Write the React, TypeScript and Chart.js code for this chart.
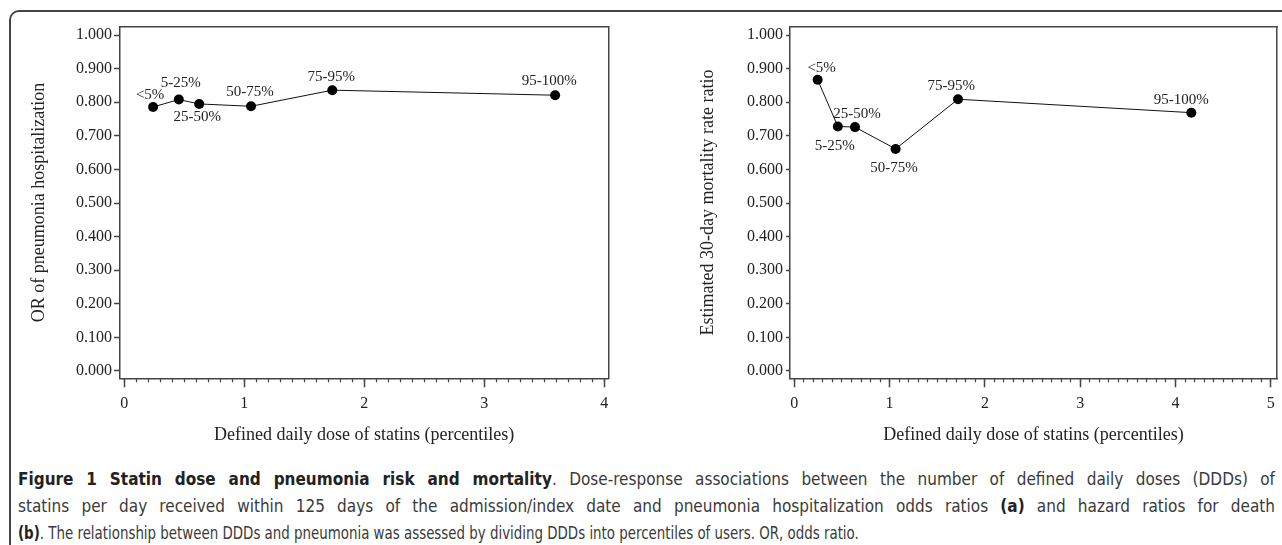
import React, { useEffect, useRef } from 'react';
import { Chart, registerables } from 'chart.js';

Chart.register(...registerables);

// ---------- data ----------
const percentileLabels = ['<5%', '5-25%', '25-50%', '50-75%', '75-95%', '95-100%'];

// Panel (a): OR of pneumonia hospitalization
const dddA = [0.24, 0.454, 0.624, 1.056, 1.733, 3.59];
const orA = [0.786, 0.808, 0.795, 0.788, 0.836, 0.821];

// Panel (b): Estimated 30-day mortality rate ratio
const dddB = [0.245, 0.457, 0.637, 1.063, 1.718, 4.166];
const rrB = [0.867, 0.728, 0.726, 0.661, 0.809, 0.769];

const yTickValues = [0, 0.1, 0.2, 0.3, 0.4, 0.5, 0.6, 0.7, 0.8, 0.9, 1.0];
const xTickValuesA = [0, 1, 2, 3, 4];
const xTickValuesB = [0, 1, 2, 3, 4, 5];

const xTitle = 'Defined daily dose of statins (percentiles)';
const yTitleA = 'OR of pneumonia hospitalization';
const yTitleB = 'Estimated 30-day mortality rate ratio';

// label placement (style, px offsets from the point)
const labelDxA = [-3, 2, -2, -1, -1, -6];
const labelDyA = [-12, -17, 13, -14, -13, -14];
const labelDxB = [4, -3, 2, -1.5, -6.7, -10];
const labelDyB = [-12, 20, -13, 19, -13, -13];

const SERIF = '"Liberation Serif", "DejaVu Serif", serif';
const AXIS_COLOR = '#444';

type PanelCfg = {
  xs: number[];
  ys: number[];
  dx: number[];
  dy: number[];
  xMin: number;
  xMax: number;
  xMajor: number[];
  yTitle: string;
  yAxisWidth: number;
  yTitlePad: number;
  yTickLen: number;
  yTickPad: number;
  padRight: number;
};

function buildConfig(p: PanelCfg): any {
  const minorCount = Math.round(p.xMajor[p.xMajor.length - 1] * 10) + 1;
  const minorTicks = Array.from({ length: minorCount }, (_, i) => i / 10);

  const labelPlugin = {
    id: 'pointLabels',
    afterDatasetsDraw(chart: any) {
      const meta = chart.getDatasetMeta(0);
      const ctx = chart.ctx;
      ctx.save();
      ctx.font = `15px ${SERIF}`;
      ctx.fillStyle = '#222';
      ctx.textAlign = 'center';
      ctx.textBaseline = 'middle';
      meta.data.forEach((pt: any, i: number) => {
        ctx.fillText(percentileLabels[i], pt.x + p.dx[i], pt.y + p.dy[i]);
      });
      ctx.restore();
    },
  };

  return {
    type: 'scatter',
    data: {
      datasets: [
        {
          data: p.xs.map((x, i) => ({ x, y: p.ys[i] })),
          showLine: true,
          borderColor: '#111',
          borderWidth: 1,
          pointRadius: 5,
          pointHoverRadius: 5,
          pointBackgroundColor: '#000',
          pointBorderColor: '#000',
          pointBorderWidth: 0,
        },
      ],
    },
    options: {
      animation: false,
      responsive: false,
      events: [],
      layout: { padding: { top: 26.7, right: p.padRight, bottom: 11.7, left: 0 } },
      plugins: { legend: { display: false }, tooltip: { enabled: false }, title: { display: false } },
      scales: {
        x: {
          type: 'linear',
          position: 'bottom',
          weight: 1,
          min: p.xMin,
          max: p.xMax,
          afterBuildTicks: (s: any) => {
            s.ticks = p.xMajor.map((v) => ({ value: v }));
          },
          afterFit: (s: any) => {
            s.height = 70;
          },
          grid: {
            display: true,
            drawOnChartArea: false,
            tickLength: 9,
            tickColor: AXIS_COLOR,
            tickWidth: 1.5,
          },
          border: { display: true, color: AXIS_COLOR, width: 1.5 },
          ticks: {
            padding: 7,
            color: '#222',
            font: { family: SERIF, size: 16 },
            maxRotation: 0,
            callback: (v: any) => String(v),
          },
          title: {
            display: true,
            text: xTitle,
            color: '#222',
            font: { family: SERIF, size: 18 },
            padding: { top: 0, bottom: 2.5 },
          },
        },
        x2: {
          type: 'linear',
          axis: 'x',
          position: 'bottom',
          weight: 0,
          min: p.xMin,
          max: p.xMax,
          afterBuildTicks: (s: any) => {
            s.ticks = minorTicks.map((v) => ({ value: v }));
          },
          afterFit: (s: any) => {
            s.height = 0;
          },
          grid: {
            display: true,
            drawOnChartArea: false,
            tickLength: 4,
            tickColor: AXIS_COLOR,
            tickWidth: 1.2,
          },
          border: { display: false },
          ticks: { display: false },
        },
        xTop: {
          type: 'linear',
          axis: 'x',
          position: 'top',
          min: p.xMin,
          max: p.xMax,
          afterFit: (s: any) => {
            s.height = 0;
          },
          grid: { display: false },
          border: { display: true, color: AXIS_COLOR, width: 1.5 },
          ticks: { display: false },
        },
        y: {
          type: 'linear',
          position: 'left',
          min: -0.022,
          max: 1.025,
          afterBuildTicks: (s: any) => {
            s.ticks = yTickValues.map((v) => ({ value: v }));
          },
          afterFit: (s: any) => {
            s.width = p.yAxisWidth;
          },
          grid: {
            display: true,
            drawOnChartArea: false,
            tickLength: p.yTickLen,
            tickColor: AXIS_COLOR,
            tickWidth: 1.5,
          },
          border: { display: true, color: AXIS_COLOR, width: 1.5 },
          ticks: {
            padding: p.yTickPad,
            color: '#222',
            font: { family: SERIF, size: 16 },
            callback: (v: any) => Number(v).toFixed(3),
          },
          title: {
            display: true,
            text: p.yTitle,
            color: '#222',
            font: { family: SERIF, size: 18 },
            padding: { top: p.yTitlePad, bottom: 0 },
          },
        },
        yRight: {
          type: 'linear',
          axis: 'y',
          position: 'right',
          min: -0.022,
          max: 1.025,
          afterFit: (s: any) => {
            s.width = 0;
          },
          grid: { display: false },
          border: { display: true, color: AXIS_COLOR, width: 1.5 },
          ticks: { display: false },
        },
      },
    },
    plugins: [labelPlugin],
  };
}

function Panel(props: { cfg: PanelCfg; left: number; width: number }) {
  const ref = useRef<HTMLCanvasElement | null>(null);
  useEffect(() => {
    if (!ref.current) return;
    const chart = new Chart(ref.current, buildConfig(props.cfg));
    return () => chart.destroy();
  }, []);
  return (
    <canvas
      ref={ref}
      width={props.width}
      height={460}
      style={{ position: 'absolute', left: props.left, top: 0, width: props.width, height: 460 }}
    />
  );
}

const captionFont = '"Liberation Sans Narrow", "DejaVu Sans Condensed", "Liberation Sans", sans-serif';
const LAST_LINE_SCALE = 0.875;

export default function App() {
  const lineStyle: React.CSSProperties = {
    position: 'absolute',
    left: 18,
    width: 1257,
    height: 27,
    lineHeight: '27px',
    whiteSpace: 'nowrap',
    fontFamily: captionFont,
    fontStretch: 'condensed',
    fontSize: 17,
    color: '#3a3a3a',
  };
  const justified: React.CSSProperties = {
    textAlign: 'justify',
    textAlignLast: 'justify',
  };
  return (
    <div style={{ position: 'absolute', left: 0, top: 0, width: 1282, height: 545, background: '#fff', overflow: 'hidden' }}>
      <div
        style={{
          position: 'absolute',
          left: 9,
          top: 10,
          width: 1300,
          height: 600,
          borderTop: '2px solid #444',
          borderLeft: '2px solid #444',
          borderTopLeftRadius: 10,
          boxSizing: 'border-box',
        }}
      />
      <Panel
        left={0}
        width={640}
        cfg={{
          xs: dddA,
          ys: orA,
          dx: labelDxA,
          dy: labelDyA,
          xMin: -0.036,
          xMax: 4.033,
          xMajor: xTickValuesA,
          yTitle: yTitleA,
          yAxisWidth: 120,
          yTitlePad: 28.2,
          yTickLen: 6,
          yTickPad: 2,
          padRight: 640 - 608.3,
        }}
      />
      <Panel
        left={660}
        width={622}
        cfg={{
          xs: dddB,
          ys: rrB,
          dx: labelDxB,
          dy: labelDyB,
          xMin: -0.045,
          xMax: 5.065,
          xMajor: xTickValuesB,
          yTitle: yTitleB,
          yAxisWidth: 130,
          yTitlePad: 37.2,
          yTickLen: 4,
          yTickPad: 3,
          padRight: 4,
        }}
      />
      <div style={{ ...lineStyle, ...justified, top: 465.5 }}>
        <b style={{ color: '#222' }}>Figure 1 Statin dose and pneumonia risk and mortality</b>. Dose-response associations
        between the number of defined daily doses (DDDs) of
      </div>
      <div style={{ ...lineStyle, ...justified, top: 492.5 }}>
        statins per day received within 125 days of the admission/index date and pneumonia hospitalization odds ratios{' '}
        <b style={{ color: '#222' }}>(a)</b> and hazard ratios for death
      </div>
      <div
        style={{
          ...lineStyle,
          top: 519.5,
          width: 1257 / LAST_LINE_SCALE,
          transform: `scaleX(${LAST_LINE_SCALE})`,
          transformOrigin: 'left center',
        }}
      >
        <b style={{ color: '#222' }}>(b)</b>. The relationship between DDDs and pneumonia was assessed by dividing DDDs
        into percentiles of users. OR, odds ratio.
      </div>
    </div>
  );
}
